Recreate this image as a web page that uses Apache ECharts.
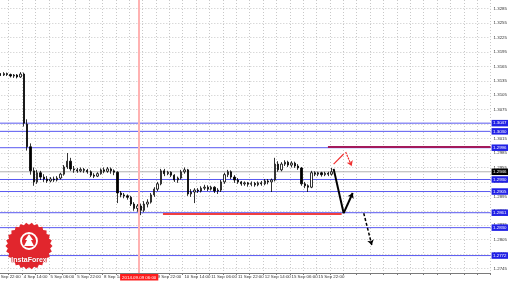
<!DOCTYPE html>
<html><head><meta charset="utf-8">
<script src="https://cdn.jsdelivr.net/npm/echarts@6/dist/echarts.min.js"></script>
<style>html,body{margin:0;padding:0;background:#fff;overflow:hidden;width:510px;height:282px;}#c{width:516px;height:282px;margin-left:-6px;}</style>
</head><body><div id="c"></div>
<script>
// ---- data ----
const timeLabels = ["3 Sep 22:00","4 Sep 14:00","5 Sep 06:00","5 Sep 22:00","8 Sep 14:00","9 Sep 06:00","9 Sep 22:00","10 Sep 14:00","11 Sep 06:00","11 Sep 22:00","12 Sep 14:00","15 Sep 06:00","15 Sep 22:00"];
const openP = [1.3151,1.3149,1.3147,1.3150,1.3148,1.3145,1.3147,1.3143,1.3149,1.3045,1.2998,1.2948,1.2925,1.2944,1.2935,1.2931,1.2927,1.2931,1.2929,1.2933,1.2941,1.2956,1.2968,1.2952,1.2950,1.2948,1.2951,1.2949,1.2946,1.2939,1.2937,1.2942,1.2950,1.2947,1.2952,1.2948,1.2945,1.2902,1.2898,1.2896,1.2893,1.2879,1.2870,1.2875,1.2866,1.2879,1.2883,1.2898,1.2910,1.2921,1.2948,1.2942,1.2945,1.2939,1.2929,1.2933,1.2946,1.2950,1.2900,1.2904,1.2908,1.2906,1.2912,1.2914,1.2910,1.2914,1.2906,1.2908,1.2925,1.2940,1.2946,1.2935,1.2929,1.2925,1.2921,1.2923,1.2920,1.2922,1.2919,1.2923,1.2921,1.2927,1.2925,1.2929,1.2962,1.2950,1.2962,1.2966,1.2960,1.2964,1.2958,1.2954,1.2921,1.2917,1.2914,1.2944,1.2941,1.2944,1.2940,1.2943,1.2941];
const closeP = [1.3149,1.3147,1.3150,1.3148,1.3145,1.3147,1.3143,1.3149,1.3047,1.2998,1.2948,1.2925,1.2944,1.2935,1.2931,1.2927,1.2931,1.2929,1.2933,1.2941,1.2956,1.2968,1.2952,1.2950,1.2948,1.2951,1.2949,1.2946,1.2939,1.2937,1.2942,1.2950,1.2947,1.2952,1.2948,1.2945,1.2902,1.2898,1.2896,1.2893,1.2879,1.2870,1.2875,1.2866,1.2879,1.2883,1.2898,1.2910,1.2921,1.2948,1.2942,1.2945,1.2939,1.2929,1.2933,1.2946,1.2950,1.2900,1.2904,1.2908,1.2906,1.2912,1.2914,1.2910,1.2914,1.2906,1.2908,1.2925,1.2940,1.2946,1.2935,1.2929,1.2925,1.2921,1.2923,1.2920,1.2922,1.2919,1.2923,1.2921,1.2927,1.2925,1.2929,1.2962,1.2950,1.2962,1.2966,1.2960,1.2964,1.2958,1.2954,1.2921,1.2917,1.2914,1.2944,1.2941,1.2944,1.2940,1.2943,1.2941,1.2946];
const lowP = [1.3146,1.3145,1.3145,1.3145,1.3142,1.3141,1.3140,1.3141,1.3040,1.2990,1.2940,1.2917,1.2921,1.2929,1.2925,1.2923,1.2924,1.2925,1.2926,1.2930,1.2938,1.2952,1.2948,1.2944,1.2944,1.2945,1.2944,1.2942,1.2935,1.2933,1.2935,1.2940,1.2943,1.2944,1.2942,1.2939,1.2881,1.2893,1.2891,1.2888,1.2875,1.2865,1.2863,1.2856,1.2862,1.2872,1.2880,1.2894,1.2906,1.2918,1.2937,1.2939,1.2935,1.2925,1.2923,1.2930,1.2942,1.2896,1.2894,1.2881,1.2902,1.2903,1.2908,1.2906,1.2907,1.2902,1.2900,1.2904,1.2921,1.2935,1.2931,1.2923,1.2921,1.2917,1.2917,1.2915,1.2916,1.2915,1.2916,1.2917,1.2918,1.2920,1.2904,1.2926,1.2946,1.2947,1.2958,1.2956,1.2955,1.2954,1.2950,1.2917,1.2912,1.2904,1.2912,1.2937,1.2937,1.2936,1.2937,1.2937,1.2938];
const highP = [1.3154,1.3151,1.3153,1.3152,1.3150,1.3149,1.3149,1.3153,1.3152,1.3055,1.3005,1.2955,1.2950,1.2948,1.2941,1.2937,1.2935,1.2936,1.2937,1.2944,1.2960,1.2985,1.2975,1.2958,1.2954,1.2955,1.2954,1.2952,1.2949,1.2943,1.2945,1.2953,1.2955,1.2956,1.2955,1.2951,1.2947,1.2906,1.2902,1.2899,1.2896,1.2883,1.2879,1.2880,1.2885,1.2889,1.2902,1.2914,1.2925,1.2952,1.2952,1.2948,1.2947,1.2941,1.2936,1.2950,1.2955,1.2952,1.2910,1.2912,1.2912,1.2916,1.2919,1.2918,1.2917,1.2916,1.2912,1.2929,1.2944,1.2950,1.2949,1.2939,1.2933,1.2927,1.2926,1.2925,1.2926,1.2925,1.2926,1.2927,1.2931,1.2931,1.2932,1.2975,1.2968,1.2966,1.2970,1.2969,1.2968,1.2967,1.2962,1.2956,1.2925,1.2920,1.2948,1.2947,1.2946,1.2946,1.2946,1.2946,1.2954];
const priceTicks = [1.3285,1.3255,1.3225,1.3195,1.3165,1.3135,1.3105,1.3075,1.3045,1.3015,1.2985,1.2955,1.2925,1.2895,1.2865,1.2835,1.2805,1.2775,1.2745];
const levelLines = [1.3047,1.3030,1.2996,1.2930,1.2905,1.2861,1.2830,1.2772];
const bidPrice = 1.2946;
const resistanceLine = { from: 98.9, to: 147.5, price: 1.2997 };
const supportLine = { from: 49.6, to: 103.0, price: 1.2859 };
const crosshair = { at: 42.5, label: "2014.09.09 06:00" };
// forecast paths: [bar index, price]
const redUp = [[100.6, 1.2962], [103.6, 1.2983]];
const redDownArrow = [[104.2, 1.2987], [106.0, 1.2958]];
const blackDown = [[100.6, 1.2952], [103.6, 1.2860]];
const blackUpArrow = [[103.6, 1.2860], [106.3, 1.2902]];
const blackDashArrow = [[109.6, 1.2860], [112.0, 1.2794]];
const totalBars = 148;
const yMin = 1.27358, yMax = 1.33028;

// ---- build ----
const cats = [];
for (let i = 0; i < totalBars; i++) cats.push(String(i));
const candles = cats.map((c, i) => i < openP.length ? [openP[i], closeP[i], lowP[i], highP[i]] : '-');
const FONT = 'Liberation Sans';
const FS = 4.4;
const X0 = -0.5, X1 = totalBars - 0.5;

function levelSeries(v, lineColor, bg, z) {
  return { type: 'line', xAxisIndex: 1, silent: true, z: z, symbol: 'none', showSymbol: false,
    data: [[X0, v], [X1, v]],
    lineStyle: { color: lineColor, width: 1, opacity: 1 }, itemStyle: { color: lineColor },
    endLabel: { show: true, distance: 1, color: '#fff', backgroundColor: bg, fontSize: FS, fontFamily: FONT,
      padding: [1.5, 1.5, 1, 1.5], formatter: v.toFixed(4) } };
}
function seg(coords, color, width, type, arrow, z) {
  return { type: 'lines', coordinateSystem: 'cartesian2d', xAxisIndex: 1, z: z, silent: true,
    symbol: arrow ? ['none', 'arrow'] : ['none', 'none'], symbolSize: 5,
    lineStyle: { color: color, width: width, type: type, opacity: 1 }, data: [{ coords: coords }] };
}

const OX = 6; // container offset
const cx = 29 + OX, cy = 246, R = 23.5, r = 21.3, n = 26;
const star = [];
for (let k = 0; k < 2 * n; k++) { const a = Math.PI * k / n; const rr = k % 2 ? r : R; star.push([cx + rr * Math.cos(a), cy + rr * Math.sin(a)]); }

const series = [
  { type: 'line', xAxisIndex: 1, data: [], silent: true, z: 1,
    markLine: { symbol: 'none', silent: true, animation: false,
      lineStyle: { color: '#ffb2b2', width: 2, type: 'solid' },
      label: { position: 'start', distance: 1, color: '#fff', backgroundColor: '#ff1c1c', fontSize: FS, fontFamily: FONT,
        padding: [1.5, 2, 1, 2], formatter: crosshair.label },
      data: [{ xAxis: crosshair.at }] } },
  levelSeries(bidPrice, '#b0b0b0', '#000', 2)
].concat(levelLines.map(v => levelSeries(v, '#5858f0', '#2121e6', 3))).concat([
  { type: 'candlestick', data: candles, barWidth: 1.8, z: 4,
    itemStyle: { color: '#fff', color0: '#000', borderColor: '#000', borderColor0: '#000', borderWidth: 0.8 } },
  seg([[resistanceLine.from, resistanceLine.price], [resistanceLine.to, resistanceLine.price]], '#a31a5c', 2, 'solid', false, 5),
  seg([[supportLine.from, supportLine.price], [supportLine.to, supportLine.price]], '#f04040', 2, 'solid', false, 5),
  seg(redUp, '#f03030', 1.2, 'solid', false, 6),
  seg(redDownArrow, '#f03030', 1.2, [2, 1], true, 6),
  seg(blackDown, '#000', 2, 'solid', false, 6),
  seg(blackUpArrow, '#000', 2, 'solid', true, 6),
  seg(blackDashArrow, '#000', 1.5, [3, 2], true, 6)
]);

const chart = echarts.init(document.getElementById('c'), null, { renderer: 'canvas' });
chart.setOption({
  animation: false,
  backgroundColor: '#fff',
  grid: { left: 0, right: 17, top: 0, bottom: 9, containLabel: false },
  xAxis: [{
    type: 'category', data: cats, boundaryGap: true,
    axisLine: { lineStyle: { color: '#7a7a7a', width: 1 } },
    axisTick: { show: true, interval: 3, length: 2, lineStyle: { color: '#7a7a7a' } },
    axisLabel: { interval: 7, align: 'left', margin: 2, fontSize: FS, fontFamily: FONT, color: '#333',
      formatter: (v, idx) => (idx % 8 === 0 && timeLabels[idx / 8]) ? timeLabels[idx / 8] : '' },
    splitLine: { show: true, interval: 3, lineStyle: { color: '#c8c8c8', type: [1, 2], width: 1 } }
  }, {
    type: 'value', min: X0, max: X1, show: false
  }],
  yAxis: {
    type: 'value', position: 'right', min: yMin, max: yMax, scale: true,
    axisLine: { show: true, lineStyle: { color: '#7a7a7a' } },
    axisTick: { show: true, length: 2, customValues: priceTicks, lineStyle: { color: '#7a7a7a' } },
    axisLabel: { customValues: priceTicks, margin: 3, fontSize: FS, fontFamily: FONT, color: '#333',
      formatter: v => v.toFixed(4) },
    splitLine: { show: true, lineStyle: { color: '#c8c8c8', type: [1, 2], width: 1 } }
  },
  series: series,
  graphic: [
    { type: 'polygon', shape: { points: star }, style: { fill: '#e1262d' }, z: 100, silent: true },
    { type: 'circle', shape: { cx: 29 + OX, cy: 241, r: 8 }, style: { fill: 'none', stroke: '#fff', lineWidth: 1.8 }, z: 101, silent: true },
    { type: 'polygon', shape: { points: [[29, 234], [33, 240], [31, 240], [34, 246], [24, 246], [27, 240], [25, 240]].map(p => [p[0] + OX, p[1]]) }, style: { fill: '#fff' }, z: 101, silent: true },
    { type: 'text', x: 29 + OX, y: 260, z: 102, silent: true,
      style: { text: 'InstaForex', fill: '#fff', font: 'bold 7px "Liberation Sans"', align: 'center', verticalAlign: 'middle',
        textAlign: 'center', textVerticalAlign: 'middle', stroke: '#c01f25', lineWidth: 0.6 } }
  ]
});
</script>
</body></html>
